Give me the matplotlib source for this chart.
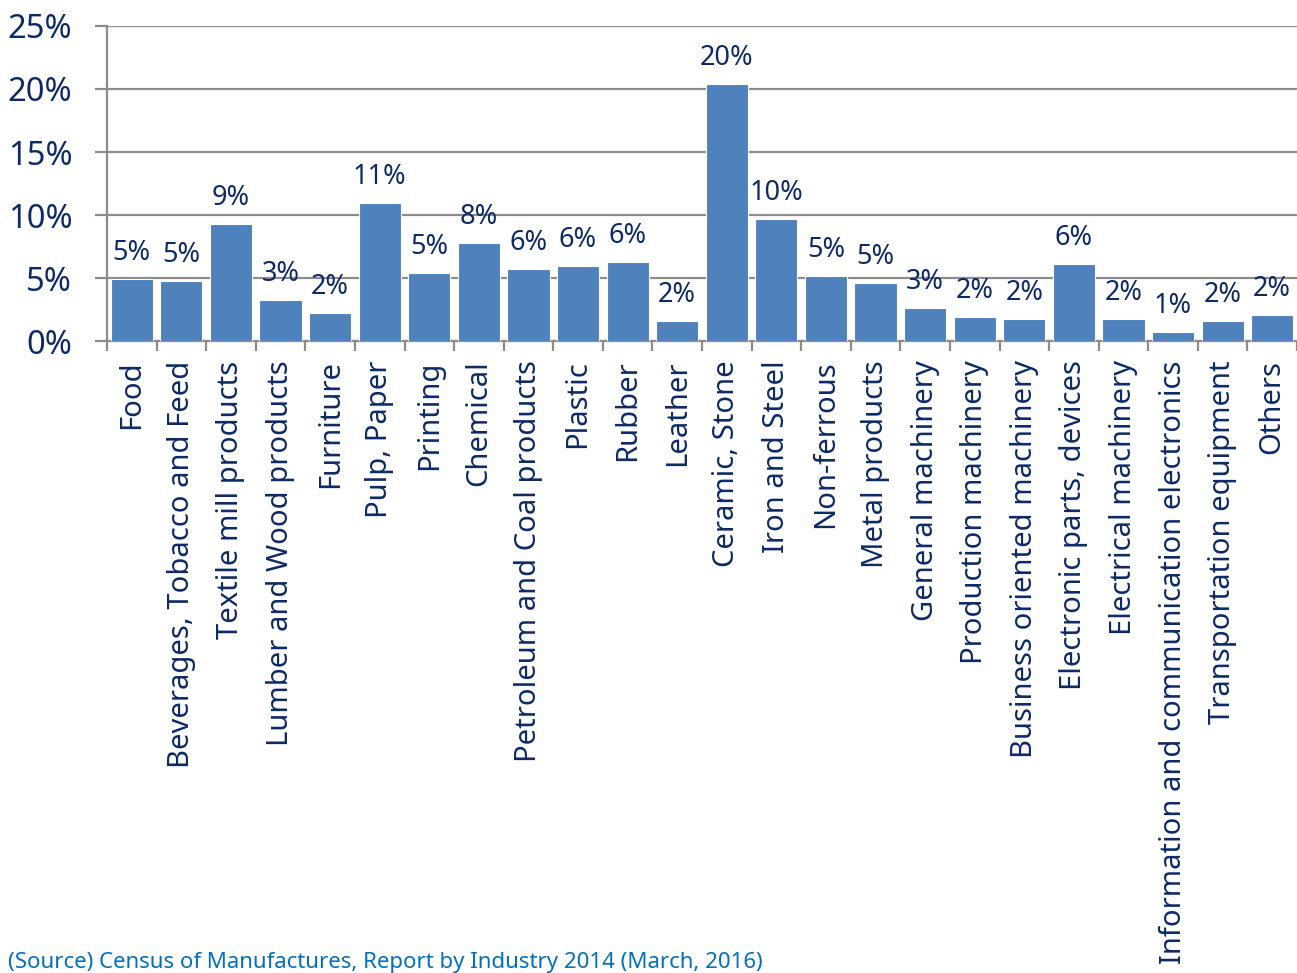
import numpy as np
import matplotlib
matplotlib.use('Agg')
import matplotlib.pyplot as plt
from matplotlib.ticker import FuncFormatter

plt.rcParams['font.family'] = ['Noto Sans', 'DejaVu Sans']

# Industry shares (%)
industries = [
    'Food', 'Beverages, Tobacco and Feed', 'Textile mill products',
    'Lumber and Wood products', 'Furniture', 'Pulp, Paper', 'Printing',
    'Chemical', 'Petroleum and Coal products', 'Plastic', 'Rubber',
    'Leather', 'Ceramic, Stone', 'Iron and Steel', 'Non-ferrous',
    'Metal products', 'General machinery', 'Production machinery',
    'Business oriented machinery', 'Electronic parts, devices',
    'Electrical machinery', 'Information and communication electronics',
    'Transportation equipment', 'Others',
]
shares = [4.9, 4.75, 9.3, 3.25, 2.2, 10.95, 5.4, 7.8, 5.7, 5.95, 6.25,
          1.6, 20.4, 9.65, 5.15, 4.6, 2.6, 1.9, 1.75, 6.1, 1.75, 0.7,
          1.6, 2.05]
yticks = [0, 5, 10, 15, 20, 25]
source = '(Source) Census of Manufactures, Report by Industry 2014 (March, 2016)'

navy = '#0E2A66'
bar_blue = '#4F81BD'
grid_gray = '#8C8C8C'

fig = plt.figure(figsize=(12.97, 9.73), dpi=100)
ax = fig.add_axes([0.0825, 0.6495, 0.9175, 0.3238])

x = np.arange(len(industries))
bars = ax.bar(x, shares, width=0.85, color=bar_blue, edgecolor='white',
              linewidth=0.8, zorder=3)

for xi, v in zip(x, shares):
    ax.text(xi, v + 0.95, f'{round(v):d}%', ha='center', va='bottom',
            fontsize=19.5, color=navy, zorder=4)

ax.set_xlim(-0.5, len(industries) - 0.5)
ax.set_ylim(0, 25)
ax.set_yticks(yticks)
ax.yaxis.set_major_formatter(FuncFormatter(lambda v, p: f'{v:.0f}%'))
ax.grid(axis='y', color=grid_gray, linewidth=1.6, zorder=0)

# category labels centred on bars, tick marks on category boundaries
ax.set_xticks(x)
ax.set_xticklabels(industries, rotation=90, fontsize=21, color=navy)
ax.tick_params(axis='x', which='major', length=0, pad=14)
ax.set_xticks(np.arange(-0.5, len(industries) + 0.5, 1), minor=True)
ax.tick_params(axis='x', which='minor', length=7, width=1.6, color=grid_gray)
ax.tick_params(axis='y', length=9, width=1.6, color=grid_gray,
               labelsize=23.5, labelcolor=navy, pad=16)

for side in ['top', 'right']:
    ax.spines[side].set_visible(False)
for side in ['left', 'bottom']:
    ax.spines[side].set_color(grid_gray)
    ax.spines[side].set_linewidth(1.6)

fig.text(0.006, 0.0, source, fontsize=16, color='#0070C0',
         ha='left', va='bottom')

fig.savefig('out.png', dpi=100)
